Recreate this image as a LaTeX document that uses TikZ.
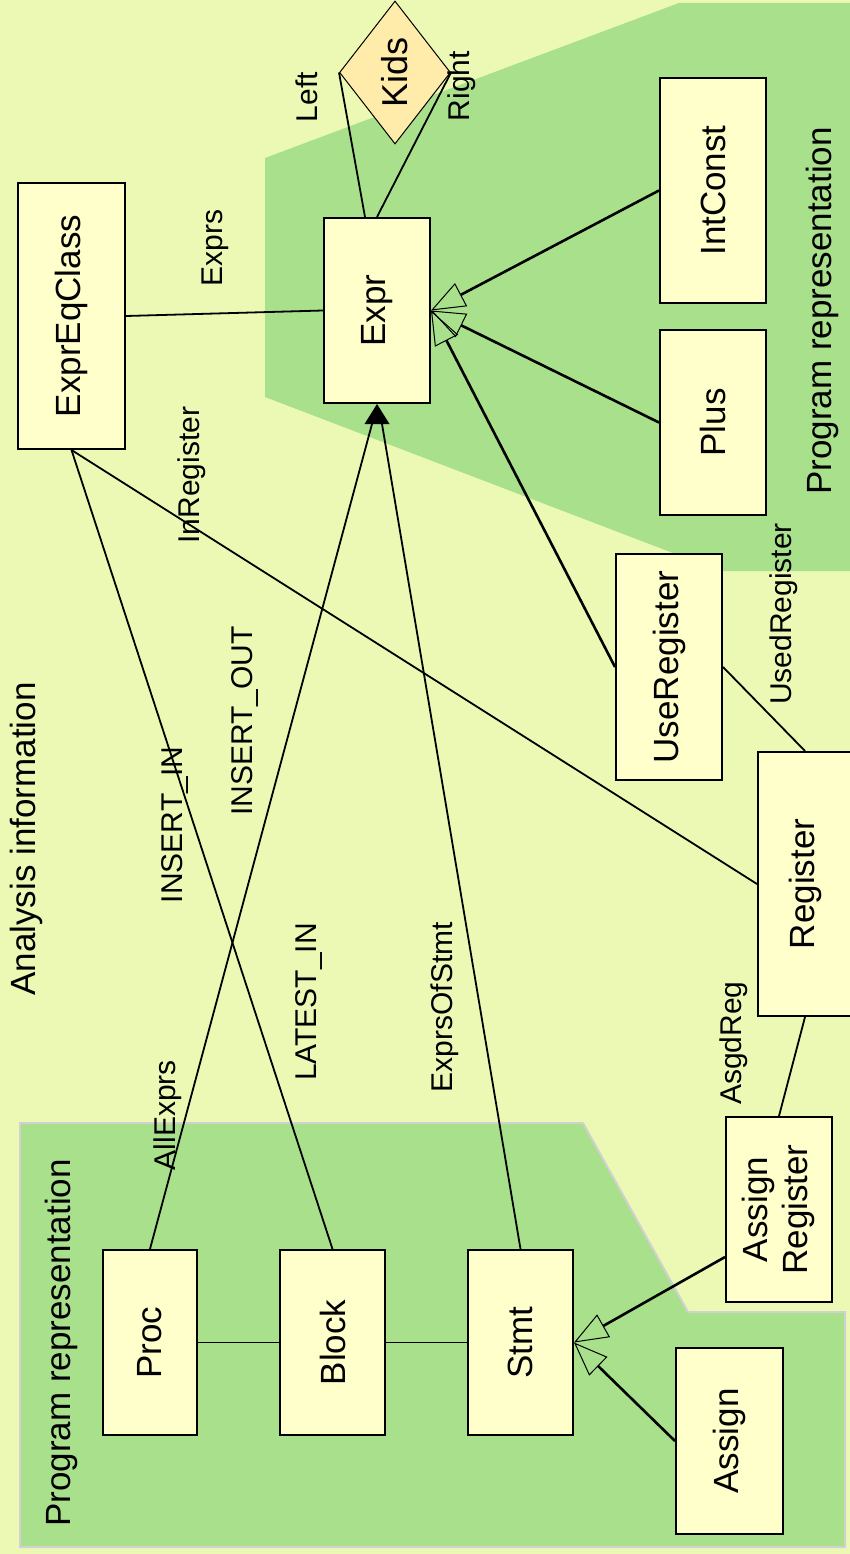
\documentclass[tikz,border=0pt]{standalone}
\usepackage{fontspec}
\setmainfont{Liberation Sans}
\usetikzlibrary{arrows.meta, shapes.geometric}
\definecolor{bgYellow}{RGB}{236,249,180}
\definecolor{progGreen}{RGB}{168,224,140}
\definecolor{boxYellow}{RGB}{255,255,204}
\definecolor{kidsYellow}{RGB}{255,236,170}
\tikzset{
	classbox/.style={draw, line width=2pt, fill=boxYellow, inner sep=0pt, font=\fontsize{35}{40}\selectfont},
	rolelabel/.style={inner sep=0pt, font=\fontsize{30}{34}\selectfont},
	arealabel/.style={inner sep=0pt, font=\fontsize{35}{40}\selectfont},
	assoc/.style={line width=1.8pt},
	general/.style={line width=2.6pt, -{Triangle[open, length=34pt, width=26pt, line width=1pt]}},
}
\newcommand{\classBox}[5][]{
	\path (#2,#3) node[classbox, #1](#4){\rotatebox{90}{#5}};
}
\newcommand{\roleLabel}[5][]{
	\path (#2,#3) node[rolelabel, #1](#4){\rotatebox{90}{#5}};
}
\newcommand{\edge}[3][]{
	\draw[#1] (#2) -- (#3);
}

\begin{document}
\begin{tikzpicture}[x=1pt, y=-1pt]
	\useasboundingbox (0,0) rectangle (850,1554);
	\clip (0,0) rectangle (850,1554);
	\fill[bgYellow] (0,0) rectangle (850,1554);
	\fill[progGreen] (265,158) -- (679,3) -- (850,3) -- (850,571) -- (720,571) -- (265,397) -- cycle;
	\filldraw[fill=progGreen, draw=black!18, line width=2pt] (20,1123) -- (583,1123) -- (688,1312) -- (845,1312) -- (845,1547) -- (20,1547) -- cycle;

	\path (26,839) node[arealabel](analysis){\rotatebox{90}{Analysis information}};
	\path (822,311) node[arealabel](progtop){\rotatebox{90}{Program representation}};
	\path (61,1343) node[arealabel](progbottom){\rotatebox{90}{Program representation}};

	\classBox[minimum width=107pt, minimum height=266pt]{71.5}{316}{exprclass}{ExprEqClass};
	\classBox[minimum width=106pt, minimum height=185pt]{377}{310.5}{expr}{Expr};
	\classBox[minimum width=106pt, minimum height=225pt]{713}{190.5}{intconst}{IntConst};
	\classBox[minimum width=106pt, minimum height=185pt]{713}{422.5}{plus}{Plus};
	\classBox[minimum width=106pt, minimum height=226pt]{669}{667}{usereg}{UseRegister};
	\classBox[minimum width=94pt, minimum height=264pt]{805}{884}{register}{Register};
	\classBox[minimum width=106pt, minimum height=185pt]{779}{1209.5}{asgreg}{\begin{tabular}{@{}c@{}}Assign\\Register\end{tabular}};
	\classBox[minimum width=94pt, minimum height=185pt]{150}{1342.5}{proc}{Proc};
	\classBox[minimum width=105pt, minimum height=185pt]{332.5}{1342.5}{block}{Block};
	\classBox[minimum width=105pt, minimum height=185pt]{520.5}{1342.5}{stmt}{Stmt};
	\classBox[minimum width=107pt, minimum height=186pt]{729.5}{1441}{assign}{Assign};
	\path (395,72.5) node[diamond, draw, line width=1pt, fill=kidsYellow, inner sep=0pt, shape aspect=0.78, minimum width=111pt, minimum height=143pt, font=\fontsize{36}{40}\selectfont](kids){\rotatebox{90}{Kids}};

	\edge[assoc]{exprclass.east}{expr.west};
	\edge[assoc]{exprclass.south}{register.west};
	\edge[assoc]{exprclass.south}{block.north};
	\edge[assoc]{[xshift=-12pt]expr.north}{kids.west};
	\edge[assoc]{expr.north}{kids.east};
	\edge[assoc]{proc.north}{[shift={(-5pt,-20pt)}]expr.south};
	\edge[assoc]{stmt.north}{[shift={(5pt,-20pt)}]expr.south};
	\fill (expr.south) -- ++(-12.5,20) -- ++(25,0) -- cycle;
	\edge[assoc]{proc}{block};
	\edge[assoc]{block}{stmt};
	\edge[general]{intconst.west}{expr.east};
	\edge[general]{plus.west}{expr.east};
	\edge[general]{usereg.west}{expr.east};
	\edge[assoc]{usereg.east}{register.north};
	\edge[assoc]{register.south}{asgreg.north};
	\edge[general]{[yshift=-47.5pt]asgreg.west}{stmt.east};
	\edge[general]{assign.west}{stmt.east};

	\roleLabel{215}{248}{exprsLabel}{Exprs};
	\roleLabel{192}{475}{inregLabel}{InRegister};
	\roleLabel{245}{721}{insoutLabel}{INSERT\_OUT};
	\roleLabel{175}{825}{insinLabel}{INSERT\_IN};
	\roleLabel{309}{1002}{latestLabel}{LATEST\_IN};
	\roleLabel{445}{1007}{ofstmtLabel}{ExprsOfStmt};
	\roleLabel{168}{1115}{allexprsLabel}{AllExprs};
	\roleLabel{784}{614}{usedregLabel}{UsedRegister};
	\roleLabel{734}{1043}{asgdregLabel}{AsgdReg};
	\roleLabel{307}{97}{leftLabel}{Left};
	\roleLabel{462}{86}{rightLabel}{Right};
\end{tikzpicture}
\end{document}
